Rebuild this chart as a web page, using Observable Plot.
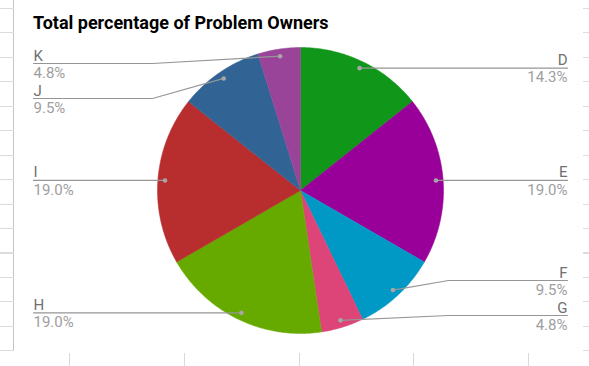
<!DOCTYPE html>
<html>
<head>
<meta charset="utf-8">
<script src="https://cdn.jsdelivr.net/npm/d3@7"></script>
<script src="https://cdn.jsdelivr.net/npm/@observablehq/plot@0.6"></script>
<style>
  html, body { margin: 0; padding: 0; background: #fff; }
  body { width: 589px; height: 366px; overflow: hidden; position: relative; font-family: Roboto, sans-serif; }
  #title { position: absolute; left: 33px; top: 12px; font: bold 18px Roboto, sans-serif; color: #000; white-space: nowrap; }
  #chart { position: absolute; left: 0; top: 40px; }
  .deco { position: absolute; z-index: 2; pointer-events: none; }
  #vline { left: 13px; top: 0; width: 1.3px; height: 351px; background: #c4c4c4; }
  #lticks { left: 0; top: 7.8px; width: 14px; height: 344px;
    background: repeating-linear-gradient(to bottom, #dcdcdc 0 1px, transparent 1px 24.45px); }
  #rticks { left: 583px; top: 7.8px; width: 6px; height: 344px;
    background: repeating-linear-gradient(to bottom, #dcdcdc 0 1px, transparent 1px 24.45px); }
  #bticks { left: 68.5px; top: 353px; width: 470px; height: 13px;
    background: repeating-linear-gradient(to right, #d9d9d9 0 1px, transparent 1px 114.75px); }
</style>
</head>
<body>
<div id="title">Total percentage of Problem Owners</div>
<div id="chart"></div>
<div class="deco" id="vline"></div>
<div class="deco" id="lticks"></div>
<div class="deco" id="rticks"></div>
<div class="deco" id="bticks"></div>
<script>
// ---- data ----
const categories = ["D", "E", "F", "G", "H", "I", "J", "K"];
const percentages = [14.3, 19.0, 9.5, 4.8, 19.0, 19.0, 9.5, 4.8];
const sliceColors = ["#109618", "#990099", "#0099c6", "#dd4477", "#66aa00", "#b82e2e", "#316395", "#994499"];

// ---- layout ----
const W = 589, H = 326, CX = 300, CY = 150, R = 143;
const DOT_R = 0.95, ELBOW = 148 / R, LABEL_X = 267 / R, GAP = 35 / R;
const Y_TOP = 127 / R, Y_BOTTOM = -125 / R;

const arcs = d3.pie().sort(null).value(d => d.value)(
  categories.map((name, i) => ({name, value: percentages[i]}))
);

// slice outlines (centre -> arc -> centre), in unit-radius coordinates
const slicePts = [];
arcs.forEach(a => {
  const name = a.data.name;
  slicePts.push({name, x: 0, y: 0});
  const n = Math.max(2, Math.ceil((a.endAngle - a.startAngle) / (Math.PI / 360)));
  for (let k = 0; k <= n; k++) {
    const t = a.startAngle + (a.endAngle - a.startAngle) * k / n;
    slicePts.push({name, x: Math.sin(t), y: Math.cos(t)});
  }
  slicePts.push({name, x: 0, y: 0});
});

// labels
const labels = arcs.map(a => {
  const m = (a.startAngle + a.endAngle) / 2;
  const x = DOT_R * Math.sin(m), y = DOT_R * Math.cos(m);
  return {name: a.data.name, pct: a.data.value.toFixed(1) + "%", dx: x, dy: y, side: x >= 0 ? 1 : -1, ly: y};
});
function place(side) {
  const L = labels.filter(d => d.side === side).sort((a, b) => b.dy - a.dy);
  for (let i = 0; i < L.length; i++)
    L[i].ly = Math.min(L[i].dy, Y_TOP, i ? L[i - 1].ly - GAP : Infinity);
  for (let i = L.length - 1; i >= 0; i--)
    L[i].ly = Math.max(L[i].ly, Y_BOTTOM, i < L.length - 1 ? L[i + 1].ly + GAP : -Infinity);
}
place(1); place(-1);

const leaders = labels.flatMap(d => [
  {name: d.name, x: d.dx, y: d.dy},
  {name: d.name, x: d.side * ELBOW, y: d.ly},
  {name: d.name, x: d.side * LABEL_X, y: d.ly}
]);

const right = labels.filter(d => d.side > 0);
const left = labels.filter(d => d.side < 0);
const NAME_COLOR = "#707070", VALUE_COLOR = "#9e9e9e", LINE_COLOR = "#969696";
const FS = 15;

const chart = Plot.plot({
  width: W, height: H,
  margin: 0,
  style: {background: "transparent", fontFamily: "Roboto, sans-serif"},
  x: {domain: [-1, 1], range: [CX - R, CX + R], axis: null},
  y: {domain: [-1, 1], range: [CY + R, CY - R], axis: null},
  color: {domain: categories, range: sliceColors},
  marks: [
    Plot.line(slicePts, {x: "x", y: "y", z: "name", fill: "name", stroke: "name", strokeWidth: 0.5}),
    Plot.line(leaders, {x: "x", y: "y", z: "name", stroke: LINE_COLOR, strokeWidth: 1.2}),
    Plot.dot(labels, {x: "dx", y: "dy", r: 2.3, fill: "#a6a6a6", stroke: null}),
    Plot.text(right, {x: d => d.side * LABEL_X, y: "ly", text: "name", textAnchor: "end", lineAnchor: "bottom", dy: -3, fill: NAME_COLOR, fontSize: FS}),
    Plot.text(right, {x: d => d.side * LABEL_X, y: "ly", text: "pct", textAnchor: "end", lineAnchor: "top", dy: 3.5, fill: VALUE_COLOR, fontSize: FS}),
    Plot.text(left, {x: d => d.side * LABEL_X, y: "ly", text: "name", textAnchor: "start", lineAnchor: "bottom", dy: -3, fill: NAME_COLOR, fontSize: FS}),
    Plot.text(left, {x: d => d.side * LABEL_X, y: "ly", text: "pct", textAnchor: "start", lineAnchor: "top", dy: 3.5, fill: VALUE_COLOR, fontSize: FS})
  ]
});
document.getElementById("chart").appendChild(chart);
</script>
</body>
</html>
